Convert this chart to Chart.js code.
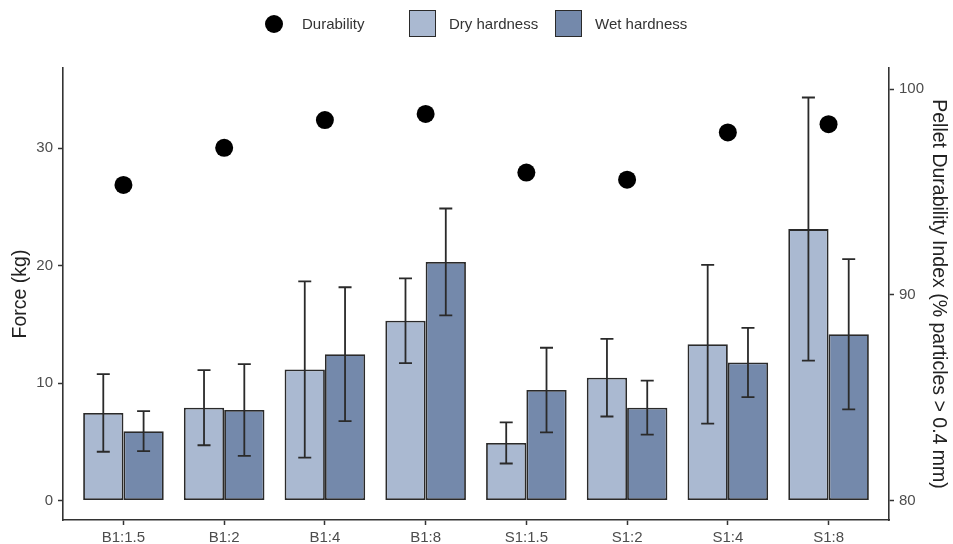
<!DOCTYPE html>
<html>
<head>
<meta charset="utf-8">
<script src="https://cdn.jsdelivr.net/npm/chart.js@4.4.1/dist/chart.umd.min.js"></script>
<style>
  body { margin: 0; background: #fff; }
  #wrap { position: relative; width: 953px; height: 544px; font-family: "Liberation Sans", Arial, sans-serif; }
  #c { position: absolute; left: 0; top: 0; }
  .lg { position: absolute; }
  .lg-text { font-size: 15px; line-height: 20px; top: 13.5px; color: #333; white-space: nowrap; }
  .lg-dot { width: 18px; height: 18px; border-radius: 50%; background: #000; top: 14.5px; left: 265px; }
  .lg-box { width: 25px; height: 25px; border: 1.8px solid #2a2a2a; top: 9.5px; }
</style>
</head>
<body>
<div id="wrap">
  <canvas id="c" width="953" height="544"></canvas>
  <div class="lg lg-dot"></div>
  <div class="lg lg-text" style="left:302px">Durability</div>
  <div class="lg lg-box" id="boxDry" style="left:409px"></div>
  <div class="lg lg-text" style="left:449px">Dry hardness</div>
  <div class="lg lg-box" id="boxWet" style="left:555px"></div>
  <div class="lg lg-text" style="left:595px">Wet hardness</div>
</div>
<script>
// values
const categories = ["B1:1.5", "B1:2", "B1:4", "B1:8", "S1:1.5", "S1:2", "S1:4", "S1:8"];
const dryHardness = [7.45, 7.9, 11.15, 15.3, 4.9, 10.45, 13.3, 23.1];
const drySD = [3.3, 3.2, 7.5, 3.6, 1.75, 3.3, 6.75, 11.2];
const wetHardness = [5.9, 7.7, 12.45, 20.3, 9.4, 7.9, 11.75, 14.15];
const wetSD = [1.7, 3.9, 5.7, 4.55, 3.6, 2.3, 2.95, 6.4];
const durability = [95.35, 97.15, 98.5, 98.8, 95.95, 95.6, 97.9, 98.3];
const forceTicks = [0, 10, 20, 30];
const pdiTicks = [80, 90, 100];

const DRY = "#aab9d1";
const WET = "#7489ab";
const INK = "#333333";
const EDGE = "#2a2a2a";
const FONT = "'Liberation Sans', Arial, sans-serif";
const ratio = 1.75;          // force units per PDI unit
const fMin = -1.66, fMax = 36.81;

document.getElementById("boxDry").style.background = DRY;
document.getElementById("boxWet").style.background = WET;

const errorBars = {
    id: "errorBars",
    afterDatasetsDraw(chart) {
        const ctx = chart.ctx;
        const yScale = chart.scales.y;
        [[0, drySD], [1, wetSD]].forEach(([di, sd]) => {
            const vals = chart.data.datasets[di].data;
            chart.getDatasetMeta(di).data.forEach((bar, i) => {
                const top = yScale.getPixelForValue(vals[i] + sd[i]);
                const bot = yScale.getPixelForValue(vals[i] - sd[i]);
                ctx.save();
                ctx.strokeStyle = EDGE;
                ctx.lineWidth = 1.8;
                ctx.beginPath();
                ctx.moveTo(bar.x, top); ctx.lineTo(bar.x, bot);
                ctx.moveTo(bar.x - 6.5, top); ctx.lineTo(bar.x + 6.5, top);
                ctx.moveTo(bar.x - 6.5, bot); ctx.lineTo(bar.x + 6.5, bot);
                ctx.stroke();
                ctx.restore();
            });
        });
    }
};

const tickFont = { family: FONT, size: 15 };
const titleFont = { family: FONT, size: 19.5 };
const axisGrid = { display: true, drawOnChartArea: false, drawTicks: true, tickLength: 5, tickColor: INK, tickWidth: 1.5 };
const axisBorder = { display: true, color: INK, width: 1.6 };

new Chart(document.getElementById("c"), {
    type: "bar",
    data: {
        labels: categories,
        datasets: [
            { label: "Dry hardness", data: dryHardness, backgroundColor: DRY, borderColor: EDGE, borderWidth: 1.8, borderSkipped: false, order: 2, yAxisID: "y" },
            { label: "Wet hardness", data: wetHardness, backgroundColor: WET, borderColor: EDGE, borderWidth: 1.8, borderSkipped: false, order: 2, yAxisID: "y" },
            { type: "line", label: "Durability", data: durability, showLine: false, pointRadius: 9, pointBackgroundColor: "#000", pointBorderWidth: 0, order: 0, yAxisID: "y2" }
        ]
    },
    options: {
        responsive: false,
        animation: false,
        devicePixelRatio: 1,
        categoryPercentage: 0.8,
        barPercentage: 1.0,
        layout: { padding: { top: 68, left: 0, right: 0, bottom: 0 } },
        plugins: { legend: { display: false }, tooltip: { enabled: false } },
        scales: {
            x: {
                type: "category",
                offset: false,
                afterBuildTicks: (s) => { s._startValue = -0.6; s._valueRange = categories.length - 1 + 1.2; },
                afterFit: (s) => { s.height = 24; },
                grid: Object.assign({ offset: false }, axisGrid),
                border: axisBorder,
                ticks: { color: "#4d4d4d", font: tickFont, padding: 4, maxRotation: 0, autoSkip: false }
            },
            y: {
                position: "left",
                min: fMin, max: fMax,
                afterBuildTicks: (s) => { s.ticks = forceTicks.map(v => ({ value: v })); },
                afterFit: (s) => { s.width = 63; },
                grid: axisGrid,
                border: axisBorder,
                ticks: { color: "#4d4d4d", font: tickFont, padding: 5 },
                title: { display: true, text: "Force (kg)", color: "#222", font: titleFont, padding: { top: 9, bottom: 0 } }
            },
            y2: {
                position: "right",
                min: 80 + fMin / ratio, max: 80 + fMax / ratio,
                afterBuildTicks: (s) => { s.ticks = pdiTicks.map(v => ({ value: v })); },
                afterFit: (s) => { s.width = 64; },
                grid: axisGrid,
                border: axisBorder,
                ticks: { color: "#4d4d4d", font: tickFont, padding: 5 },
                title: { display: true, text: "Pellet Durability Index (% particles > 0.4 mm)", color: "#222", font: titleFont, padding: { top: 3, bottom: 0 } }
            }
        }
    },
    plugins: [errorBars]
});
</script>
</body>
</html>
